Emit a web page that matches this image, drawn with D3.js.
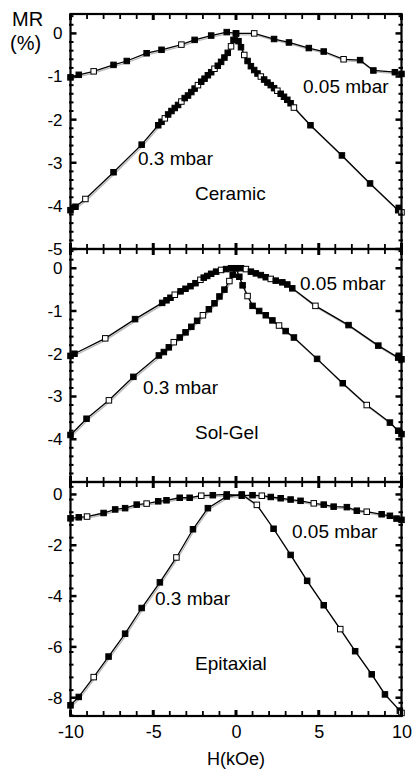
<!DOCTYPE html>
<html>
<head>
<meta charset="utf-8">
<script src="https://cdn.jsdelivr.net/npm/d3@7"></script>
<style>
  body { margin: 0; background: #fff; }
  text { font-family: "Liberation Sans", Arial, sans-serif; fill: #000; }
</style>
</head>
<body>
<svg id="chart" width="413" height="774"></svg>
<script>
// field values (kOe) and MR (%), one pair of arrays per curve

// Ceramic
var cer_lo_H  = [-10, -9.5, -8.6, -7.4, -6.6, -5.4, -4.5, -3.3, -2.5, -1.5, -0.56, 0, 1.1, 2.3, 3.2, 4.4, 5.3, 6.5, 7.5, 8.3, 9.6, 10];
var cer_lo_MR = [-1.02, -0.96, -0.88, -0.73, -0.64, -0.46, -0.38, -0.26, -0.15, -0.05, 0.03, 0, 0, -0.13, -0.21, -0.34, -0.42, -0.6, -0.62, -0.86, -0.9, -0.94];
var cer_hi_H  = [-10, -9.7, -9.1, -7.4, -5.7, -4.7, -4.5, -4.3, -4.1, -3.9, -3.7, -3.5, -3.3, -3.1, -2.9, -2.7, -2.5, -2.3, -2.1, -1.9, -1.7, -1.5, -1.3, -1.1, -0.9, -0.7, -0.5, -0.3, -0.15, 0,
                 0.15, 0.3, 0.5, 0.7, 0.9, 1.1, 1.3, 1.5, 1.7, 1.9, 2.1, 2.3, 2.5, 2.7, 2.9, 3.1, 3.3, 3.5, 4.5, 6.4, 8.1, 9.8, 10];
var cer_hi_MR = [-4.1, -4.02, -3.84, -3.22, -2.58, -2.13, -2.05, -1.97, -1.88, -1.8, -1.73, -1.66, -1.58, -1.5, -1.44, -1.36, -1.28, -1.2, -1.12, -1.05, -0.97, -0.9, -0.82, -0.75, -0.66, -0.56, -0.45, -0.3, -0.15, 0,
                 -0.18, -0.32, -0.5, -0.64, -0.76, -0.85, -0.93, -1.0, -1.07, -1.14, -1.2, -1.27, -1.33, -1.4, -1.47, -1.54, -1.62, -1.72, -2.13, -2.83, -3.48, -4.1, -4.15];

// Sol-Gel
var sol_lo_H  = [-10, -9.76, -7.9, -6.1, -4.46, -4.2, -3.96, -3.7, -3.35, -3.05, -2.75, -2.45, -2.15, -1.95, -1.74, -1.5, -1.2, -0.9, -0.6, -0.3, 0,
                 0.3, 0.6, 0.9, 1.2, 1.5, 1.8, 2.1, 2.4, 2.8, 3.1, 3.4, 4.8, 6.8, 8.6, 9.8, 10];
var sol_lo_MR = [-2.05, -2.0, -1.64, -1.19, -0.81, -0.75, -0.69, -0.62, -0.54, -0.48, -0.42, -0.35, -0.27, -0.22, -0.18, -0.13, -0.08, -0.04, -0.02, 0, 0,
                 0, -0.02, -0.08, -0.12, -0.16, -0.21, -0.25, -0.29, -0.33, -0.38, -0.47, -0.88, -1.33, -1.81, -2.09, -2.13];
var sol_hi_H  = [-10, -9.03, -7.68, -6.2, -4.66, -4.36, -4.06, -3.76, -3.4, -3.05, -2.7, -2.35, -2.0, -1.64, -1.3, -1.0, -0.7, -0.4, -0.2, 0,
                 0.2, 0.4, 0.7, 1.0, 1.4, 1.8, 2.2, 2.6, 3.0, 3.5, 4.9, 6.45, 7.9, 9.3, 9.8, 10];
var sol_hi_MR = [-3.9, -3.52, -3.09, -2.54, -2.04, -1.96, -1.85, -1.73, -1.62, -1.5, -1.37, -1.23, -1.1, -0.96, -0.82, -0.66, -0.5, -0.3, -0.15, 0,
                 -0.2, -0.4, -0.65, -0.88, -1.0, -1.1, -1.22, -1.34, -1.47, -1.62, -2.12, -2.69, -3.2, -3.61, -3.8, -3.88];

// Epitaxial
var epi_lo_H  = [-10, -9.5, -9.0, -8.0, -7.3, -6.7, -6.0, -5.4, -4.7, -4.2, -3.4, -2.8, -2.1, -1.4, -0.56, 0.35, 1.0, 1.56, 2.1, 2.7, 3.3, 3.9, 4.7, 5.3, 5.9, 6.7, 7.3, 7.9, 8.8, 9.3, 9.7, 10];
var epi_lo_MR = [-0.94, -0.9, -0.87, -0.73, -0.59, -0.54, -0.4, -0.36, -0.27, -0.23, -0.13, -0.13, -0.05, -0.03, 0, -0.05, -0.03, -0.05, -0.1, -0.15, -0.2, -0.25, -0.35, -0.4, -0.48, -0.5, -0.64, -0.68, -0.78, -0.84, -0.95, -1.0];
var epi_hi_H  = [-10, -9.5, -8.6, -7.7, -6.7, -5.7, -4.6, -3.6, -2.6, -1.7, -0.56, 0.35, 1.26, 2.27, 3.3, 4.3, 5.3, 6.3, 7.2, 8.2, 9.0, 9.9, 10];
var epi_hi_MR = [-8.3, -7.97, -7.19, -6.38, -5.48, -4.47, -3.46, -2.48, -1.37, -0.54, -0.08, 0, -0.41, -1.35, -2.38, -3.4, -4.36, -5.3, -6.17, -7.08, -7.87, -8.51, -8.6];

var xTickLabels = [-10, -5, 0, 5, 10];
var panelNames  = ["Ceramic", "Sol-Gel", "Epitaxial"];
var curveLabels = ["0.05 mbar", "0.3 mbar"];
var yDomains    = [[-5, 0.45], [-5, 0.45], [-8.72, 0.49]];
var yMajor      = [[0, -1, -2, -3, -4, -5], [0, -1, -2, -3, -4], [0, -2, -4, -6, -8]];
var yMinorStep  = [0.2, 0.2, 0.5];

var panels = [
  {lo: [cer_lo_H, cer_lo_MR], hi: [cer_hi_H, cer_hi_MR], top: 14,  bottom: 249,
   lab05: [303, 93], lab3: [138, 165], name: [195, 200]},
  {lo: [sol_lo_H, sol_lo_MR], hi: [sol_hi_H, sol_hi_MR], top: 249, bottom: 482,
   lab05: [300, 290], lab3: [143, 394], name: [195, 439]},
  {lo: [epi_lo_H, epi_lo_MR], hi: [epi_hi_H, epi_hi_MR], top: 482, bottom: 716,
   lab05: [292, 538], lab3: [155, 605], name: [195, 670]}
];

var left = 70.5, right = 401.5;
var svg = d3.select('#chart');
var x = d3.scaleLinear().domain([-10, 10]).range([left, right]);

var line = d3.line().x(d => x(d[0])).y(d => d[2](d[1]));

panels.forEach(function(p, i) {
  var y = d3.scaleLinear().domain(yDomains[i]).range([p.bottom, p.top]);
  var g = svg.append('g');

  // curves: faint grey trace under the black one
  [p.lo, p.hi].forEach(function(c) {
    var pts = c[0].map((h, k) => [h, c[1][k], y]);
    g.append('path').datum(pts)
      .attr('d', line)
      .attr('transform', 'translate(1,1.5)')
      .attr('fill', 'none').attr('stroke', '#b8b8b8').attr('stroke-width', 1.3);
    g.append('path').datum(pts)
      .attr('d', line)
      .attr('fill', 'none').attr('stroke', '#000').attr('stroke-width', 1.3);
    g.selectAll(null).data(pts).enter().append('rect')
      .attr('x', d => x(d[0]) - 2.75)
      .attr('y', d => y(d[1]) - 2.75)
      .attr('width', 5.5).attr('height', 5.5)
      .attr('fill', (d, k) => k % 5 == 2 ? '#fff' : '#000')
      .attr('stroke', '#000').attr('stroke-width', 1);
  });

  // frame
  g.append('rect')
    .attr('x', left).attr('y', p.top)
    .attr('width', right - left).attr('height', p.bottom - p.top)
    .attr('fill', 'none').attr('stroke', '#000').attr('stroke-width', 2.2);

  // x ticks on top and bottom edges, pointing inward
  var xMinor = d3.range(-10, 10.01, 1);
  [[p.top, 1], [p.bottom, -1]].forEach(function(e) {
    g.selectAll(null).data(xMinor).enter().append('line')
      .attr('x1', d => x(d)).attr('x2', d => x(d))
      .attr('y1', e[0])
      .attr('y2', d => e[0] + e[1] * (d % 5 == 0 ? 6 : 5))
      .attr('stroke', '#000')
      .attr('stroke-width', d => d % 5 == 0 ? 3 : 1.8);
  });

  // y ticks on both sides
  var minor = d3.range(yDomains[i][0], yDomains[i][1], yMinorStep[i]).map(v => Math.round(v * 10) / 10)
    .filter(v => v >= yDomains[i][0] && v <= yDomains[i][1] && yMajor[i].indexOf(v) < 0);
  [[left, 1], [right, -1]].forEach(function(e) {
    g.selectAll(null).data(minor).enter().append('line')
      .attr('x1', e[0] - e[1] * 1.5).attr('x2', e[0] + e[1] * 3)
      .attr('y1', d => y(d)).attr('y2', d => y(d))
      .attr('stroke', '#000').attr('stroke-width', 2);
    g.selectAll(null).data(yMajor[i]).enter().append('line')
      .attr('x1', e[0]).attr('x2', e[0] + e[1] * 6)
      .attr('y1', d => y(d)).attr('y2', d => y(d))
      .attr('stroke', '#000').attr('stroke-width', 2.5);
  });

  var yAxis = d3.axisLeft(y).tickValues(yMajor[i]).tickSize(0).tickPadding(0)
    .tickFormat(d => d == 0 ? '0' : String(d).replace('\u2212', '-'));
  var ya = g.append('g').attr('transform', 'translate(' + (left - 8) + ',0)').call(yAxis);
  ya.select('.domain').remove();
  ya.selectAll('text').style('font-size', '17px').style('font-family', '"Liberation Sans", Arial, sans-serif');

  // labels
  g.append('text').attr('x', p.lab05[0]).attr('y', p.lab05[1]).style('font-size', '19px').text(curveLabels[0]);
  g.append('text').attr('x', p.lab3[0]).attr('y', p.lab3[1]).style('font-size', '19px').text(curveLabels[1]);
  g.append('text').attr('x', p.name[0]).attr('y', p.name[1]).style('font-size', '19px').text(panelNames[i]);
});

// bottom axis labels
var xAxis = d3.axisBottom(x).tickValues(xTickLabels).tickSize(0).tickPadding(0)
  .tickFormat(d => String(d));
var xa = svg.append('g').attr('transform', 'translate(0,' + 725 + ')').call(xAxis);
xa.select('.domain').remove();
xa.selectAll('text').style('font-size', '18px').style('font-family', '"Liberation Sans", Arial, sans-serif');

svg.append('text').attr('x', 236).attr('y', 765).attr('text-anchor', 'middle')
  .style('font-size', '18px').text('H(kOe)');
svg.append('text').attr('x', 12).attr('y', 26).style('font-size', '20px').text('MR');
svg.append('text').attr('x', 10).attr('y', 50).style('font-size', '20px').text('(%)');
</script>
</body>
</html>
